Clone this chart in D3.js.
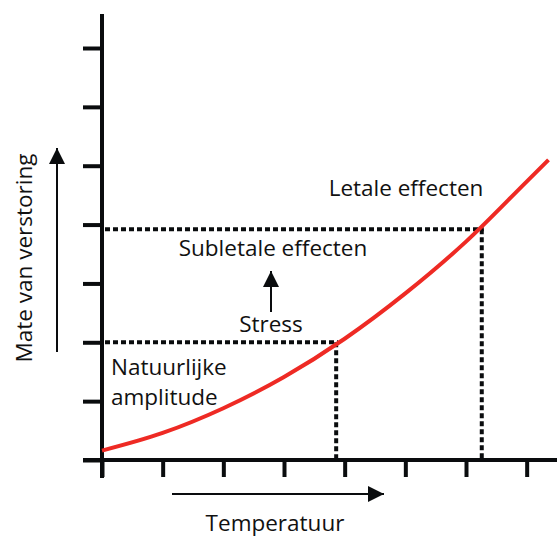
<!DOCTYPE html>
<html><head><meta charset="utf-8">
<script src="https://cdn.jsdelivr.net/npm/d3@7/dist/d3.min.js"></script>
<style>body{margin:0;background:#fff}svg{display:block}text{font-family:"Open Sans",sans-serif;fill:#111;font-weight:500}</style>
</head><body><svg id="c" width="557" height="538"></svg>
<script>
// Data
const curveX = [0, 1, 2, 3, 4, 5, 6, 7, 7.36];
const curveY = [0.16, 0.46, 0.88, 1.41, 2.06, 2.83, 3.71, 4.73, 5.10];
const xTicks = [0, 1, 2, 3, 4, 5, 6, 7];
const yTicks = [0, 1, 2, 3, 4, 5, 6, 7];
const thresholdLow = {x: 3.86, y: 2.0};
const thresholdHigh = {x: 6.26, y: 3.92};
const labels = ["Letale effecten", "Subletale effecten", "Stress", "Natuurlijke", "amplitude"];
const xTitle = "Temperatuur";
const yTitle = "Mate van verstoring";

const svg = d3.select("#c");
const x = d3.scaleLinear().domain([0, 7.5]).range([102, 557]);
const y = d3.scaleLinear().domain([0, 7]).range([460, 48]);
const ink = "#0a0c0e";
const fs = 22.5;

svg.append("defs").append("marker").attr("id","ah").attr("viewBox","0 0 10 10")
  .attr("refX",10).attr("refY",5).attr("markerWidth",9).attr("markerHeight",8)
  .attr("markerUnits","strokeWidth").attr("orient","auto")
  .append("path").attr("d","M0,0L10,5L0,10Z").attr("fill",ink);

// y axis ticks (left)
const yAxis = d3.axisLeft(y).tickValues(yTicks).tickSize(19).tickFormat("");
const ga = svg.append("g").attr("transform","translate(102,0)").call(yAxis);
ga.select(".domain").remove();
ga.selectAll("line").attr("stroke",ink).attr("stroke-width",4);
svg.append("line").attr("x1",102).attr("x2",102).attr("y1",14).attr("y2",478)
  .attr("stroke",ink).attr("stroke-width",4);

// x axis
const xAxis = d3.axisBottom(x).tickValues(xTicks).tickSize(17).tickFormat("");
const gx = svg.append("g").attr("transform","translate(0,460)").call(xAxis);
gx.select(".domain").remove();
gx.selectAll("line").attr("stroke",ink).attr("stroke-width",4);
svg.append("line").attr("x1",83).attr("x2",557).attr("y1",460).attr("y2",460).attr("stroke",ink).attr("stroke-width",4);

// dotted thresholds
function dl(x1,y1,x2,y2){svg.append("line").attr("x1",x1).attr("y1",y1).attr("x2",x2).attr("y2",y2)
  .attr("stroke",ink).attr("stroke-width",4).attr("stroke-dasharray","5 3");}
dl(x(0)+3, y(thresholdLow.y), x(thresholdLow.x)+2, y(thresholdLow.y));
dl(x(thresholdLow.x), y(thresholdLow.y), x(thresholdLow.x), y(0)-2);
dl(x(0)+3, y(thresholdHigh.y), x(thresholdHigh.x)+2, y(thresholdHigh.y));
dl(x(thresholdHigh.x), y(thresholdHigh.y), x(thresholdHigh.x), y(0)-2);

// curve
const line = d3.line().x((d,i)=>x(curveX[i])).y(d=>y(d)).curve(d3.curveMonotoneX);
svg.append("path").attr("d", line(curveY)).attr("fill","none").attr("stroke","#ee2a24").attr("stroke-width",4);

// labels
svg.append("text").attr("x",406).attr("y",196).attr("text-anchor","middle").attr("font-size",fs).text(labels[0]);
svg.append("text").attr("x",273).attr("y",256).attr("text-anchor","middle").attr("font-size",fs).text(labels[1]);
svg.append("text").attr("x",271).attr("y",332).attr("text-anchor","middle").attr("font-size",fs).text(labels[2]);
svg.append("text").attr("x",111).attr("y",375).attr("font-size",fs).text(labels[3]);
svg.append("text").attr("x",111).attr("y",405).attr("font-size",fs).text(labels[4]);
svg.append("text").attr("x",275).attr("y",531).attr("text-anchor","middle").attr("font-size",fs).text(xTitle);
svg.append("text").attr("transform","translate(32,258) rotate(-90)").attr("text-anchor","middle").attr("font-size",fs).text(yTitle);

// arrows
svg.append("line").attr("x1",271).attr("y1",312).attr("x2",271).attr("y2",271).attr("stroke",ink).attr("stroke-width",2).attr("marker-end","url(#ah)");
svg.append("line").attr("x1",57).attr("y1",352).attr("x2",57).attr("y2",148).attr("stroke",ink).attr("stroke-width",2).attr("marker-end","url(#ah)");
svg.append("line").attr("x1",172).attr("y1",494).attr("x2",384).attr("y2",494).attr("stroke",ink).attr("stroke-width",2).attr("marker-end","url(#ah)");
</script></body></html>
